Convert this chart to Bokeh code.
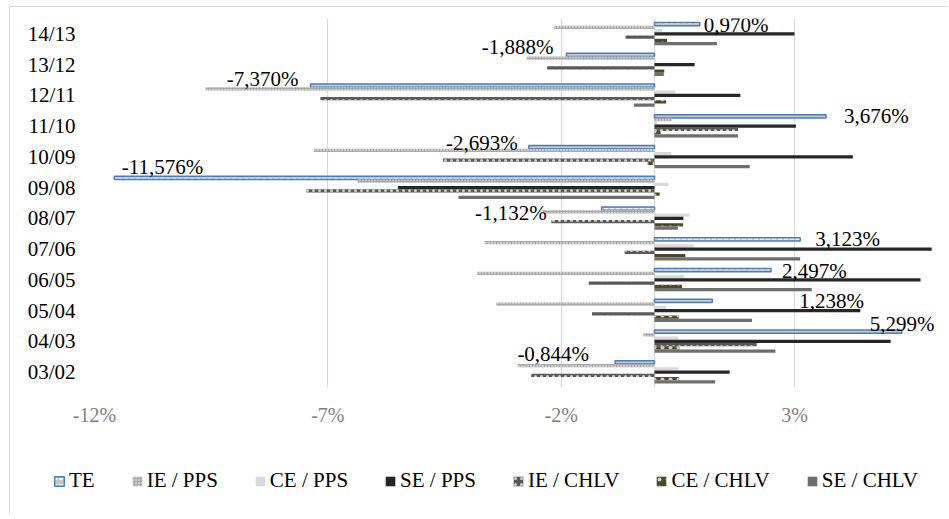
from bokeh.plotting import figure
from bokeh.models import (ColumnDataSource, FactorRange, Range1d, FixedTicker,
                          PrintfTickFormatter, Span, Legend, LegendItem)
from bokeh.transform import dodge
from bokeh.core.properties import value
from bokeh.embed import file_html
from bokeh.resources import INLINE

# ---------------- data (top to bottom as in the chart) ----------------
categories = ["14/13", "13/12", "12/11", "11/10", "10/09", "09/08",
              "08/07", "07/06", "06/05", "05/04", "04/03", "03/02"]
series_names = ["TE", "IE / PPS", "CE / PPS", "SE / PPS",
                "IE / CHLV", "CE / CHLV", "SE / CHLV"]
te      = [0.970, -1.888, -7.370, 3.676, -2.693, -11.576, -1.132, 3.123, 2.497, 1.238, 5.299, -0.844]
ie_pps  = [-2.16, -2.74, -9.62, 0.37, -7.30, -6.36, -2.40, -3.64, -3.80, -3.39, -0.24, -2.93]
ce_pps  = [0.16, 0.02, 0.44, 0.05, 0.36, 0.30, 0.75, 0.84, 0.63, 0.25, 0.51, 0.51]
se_pps  = [3.00, 0.86, 1.84, 3.03, 4.25, -5.50, 0.62, 5.94, 5.70, 4.41, 5.06, 1.61]
ie_chlv = [-0.62, -2.30, -7.16, 1.79, -4.53, -7.46, -2.21, -0.64, -1.41, -1.34, 2.19, -2.64]
ce_chlv = [0.27, 0.21, 0.25, 0.13, -0.16, 0.11, 0.61, 0.66, 0.59, 0.52, 0.54, 0.52]
se_chlv = [1.34, 0.20, -0.44, 1.79, 2.04, -4.20, 0.50, 3.12, 3.37, 2.09, 2.59, 1.30]
x_ticks = [-12, -7, -2, 3]

# manual label placement (screen px) for the TE data labels, as in the original
label_dx = [4, -13, -12, 18, -11, 89, -55, 15, 11, 87, -32, -26]
label_dy = [1, -8, -7, 0, -4, -11, 4, 0, 1, 0, -8, -8]

# ---------------- styles ----------------
styles = [
    dict(fill_color="#c8c8c8", line_color="#4a7ebb", line_width=1.5,
         hatch_pattern="horizontal_dash", hatch_color="white", hatch_scale=6, hatch_weight=1.5),
    dict(fill_color="#a9a9a9", line_color=None,
         hatch_pattern="dot", hatch_color="white", hatch_scale=3, hatch_weight=1),
    dict(fill_color="#d9d9d9", line_color=None),
    dict(fill_color="#262626", line_color=None),
    dict(fill_color="#595959", line_color=None,
         hatch_pattern="dot", hatch_color="#d0d0d0", hatch_scale=6, hatch_weight=2),
    dict(fill_color="#4d4729", line_color=None,
         hatch_pattern="dot", hatch_color="#cfcfcf", hatch_scale=8, hatch_weight=1.5),
    dict(fill_color="#6e6e6e", line_color=None),
]

cols = ["te", "ie_pps", "ce_pps", "se_pps", "ie_chlv", "ce_chlv", "se_chlv"]
src = ColumnDataSource(dict(cat=categories, te=te, ie_pps=ie_pps, ce_pps=ce_pps,
                            se_pps=se_pps, ie_chlv=ie_chlv, ce_chlv=ce_chlv,
                            se_chlv=se_chlv))

FONT = "Liberation Serif"
BORDER = "1px solid #d9d9d9"

p = figure(y_range=FactorRange(factors=categories[::-1], range_padding=0),
           x_range=Range1d(-12, 6),
           width=938, height=433, output_backend="svg", toolbar_location=None,
           min_border_left=84, min_border_right=14, min_border_top=11,
           min_border_bottom=53, margin=(6, 0, 0, 9))
p.outline_line_color = None
p.styles = {"border-top": BORDER, "border-left": BORDER}

step = 0.106
for i, (c, st) in enumerate(zip(cols, styles)):
    off = (3 - i) * step
    p.hbar(y=dodge("cat", off, range=p.y_range), left=0, right=c,
           height=step * 0.98, source=src, **st)

p.add_layout(Span(location=0, dimension="height", line_color="#d9d9d9",
                  line_width=1.2, level="underlay"))

# data labels for TE
labels = [("%.3f" % v).replace(".", ",") + "%" for v in te]
pos_idx = [i for i, v in enumerate(te) if v >= 0]
neg_idx = [i for i, v in enumerate(te) if v < 0]
for idx, align in ((pos_idx, "left"), (neg_idx, "right")):
    lsrc = ColumnDataSource(dict(cat=[categories[i] for i in idx],
                                 x=[te[i] for i in idx],
                                 t=[labels[i] for i in idx],
                                 dx=[label_dx[i] for i in idx],
                                 dy=[label_dy[i] for i in idx]))
    p.text(x="x", y=dodge("cat", 3 * step, range=p.y_range), text="t",
           x_offset="dx", y_offset="dy", source=lsrc,
           text_align=align, text_baseline="middle",
           text_font=value(FONT), text_font_size=value("21px"),
           text_color="#000000")

# axes
p.xaxis.ticker = FixedTicker(ticks=x_ticks)
p.xaxis.formatter = PrintfTickFormatter(format="%d%%")
p.xaxis.axis_line_color = None
p.xaxis.major_tick_line_color = None
p.xaxis.minor_tick_line_color = None
p.xaxis.major_tick_out = 0
p.xaxis.major_label_standoff = 16
p.xaxis.major_label_text_font = FONT
p.xaxis.major_label_text_font_size = "20px"
p.xaxis.major_label_text_color = "#7f7f7f"

p.yaxis.axis_line_color = None
p.yaxis.major_tick_line_color = None
p.yaxis.minor_tick_line_color = None
p.yaxis.major_tick_out = 0
p.yaxis.major_label_standoff = 19
p.yaxis.major_label_text_font = FONT
p.yaxis.major_label_text_font_size = "21px"
p.yaxis.major_label_text_color = "#000000"

p.xgrid.grid_line_color = "#d9d9d9"
p.xgrid.grid_line_width = 1.2
p.ygrid.grid_line_color = None

# ---------------- legend strip (separate root below the chart) ----------------
lg = figure(width=938, height=75, x_range=Range1d(0, 1), y_range=Range1d(0, 1),
            output_backend="svg", toolbar_location=None,
            min_border_left=0, min_border_right=0, min_border_top=0,
            min_border_bottom=0, margin=(0, 0, 0, 9))
lg.xaxis.visible = False
lg.yaxis.visible = False
lg.xgrid.grid_line_color = None
lg.ygrid.grid_line_color = None
lg.outline_line_color = None
lg.styles = {"border-left": BORDER}
# legend-only renderers: a single zero-size bar (draws nothing by itself)
dummy = ColumnDataSource(dict(y=[0.5], l=[0.5], r=[0.5]))
leg_renderers = [lg.hbar(y="y", left="l", right="r", height=0, source=dummy, **st)
                 for st in styles]
legend = Legend(items=[LegendItem(label=n, renderers=[r])
                       for n, r in zip(series_names, leg_renderers)],
                orientation="horizontal", location=(43, 21),
                glyph_width=12, glyph_height=12, label_standoff=4, spacing=36,
                padding=0, margin=0, border_line_color=None,
                background_fill_alpha=0,
                label_text_font=FONT, label_text_font_size="21px",
                label_text_color="#000000")
lg.add_layout(legend)

open("out.html", "w").write(file_html([p, lg], INLINE))
